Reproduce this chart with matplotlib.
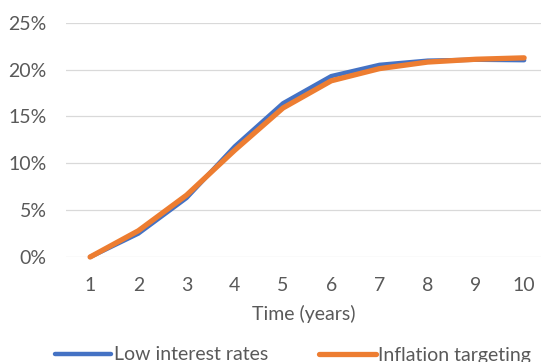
import numpy as np
import matplotlib
matplotlib.use("Agg")
import matplotlib.pyplot as plt
from matplotlib.ticker import PercentFormatter

# cumulative change over ten years for the two policy scenarios
years = [1, 2, 3, 4, 5, 6, 7, 8, 9, 10]
low_rates = [0.0, 0.025, 0.063, 0.118, 0.164, 0.193, 0.205, 0.2095, 0.2105, 0.210]
inflation_targeting = [0.0, 0.028, 0.066, 0.114, 0.159, 0.188, 0.201, 0.208, 0.211, 0.2125]

plt.rcParams['font.family'] = ['Lato', 'DejaVu Sans']
text_color = '#595959'

fig = plt.figure(figsize=(5.41, 3.62), dpi=100)
ax = fig.add_axes([66 / 541, 105 / 362, 1 - 66 / 541, (257 - 22.7) / 362])

ax.plot(years, low_rates, color='#4472C4', lw=3.2, solid_capstyle='round',
        solid_joinstyle='round', label='Low interest rates', clip_on=False, zorder=3)
ax.plot(years, inflation_targeting, color='#ED7D31', lw=3.8, solid_capstyle='round',
        solid_joinstyle='round', label='Inflation targeting', clip_on=False, zorder=4)

ax.set_xlim(0.5, 10.35)
ax.set_ylim(0, 0.25)
ax.set_xticks(years)
ax.set_yticks(np.arange(0, 0.26, 0.05))
ax.yaxis.set_major_formatter(PercentFormatter(1.0, decimals=0))
ax.grid(axis='y', color='#D9D9D9', lw=0.9)
ax.set_axisbelow(True)
for s in ax.spines.values():
    s.set_visible(False)
ax.tick_params(length=0, labelsize=14, colors=text_color)
ax.tick_params(axis='y', pad=14)
ax.tick_params(axis='x', pad=14.5)
ax.set_xlabel('Time (years)', fontsize=14, color=text_color, labelpad=8)

fig.legend(loc='center left', bbox_to_anchor=(55 / 541, 7 / 362), ncol=2,
           frameon=False, fontsize=14, handlelength=2.9, handletextpad=0.15,
           columnspacing=2.6, borderpad=0, borderaxespad=0, labelcolor=text_color)

fig.savefig('out.png', dpi=100)
